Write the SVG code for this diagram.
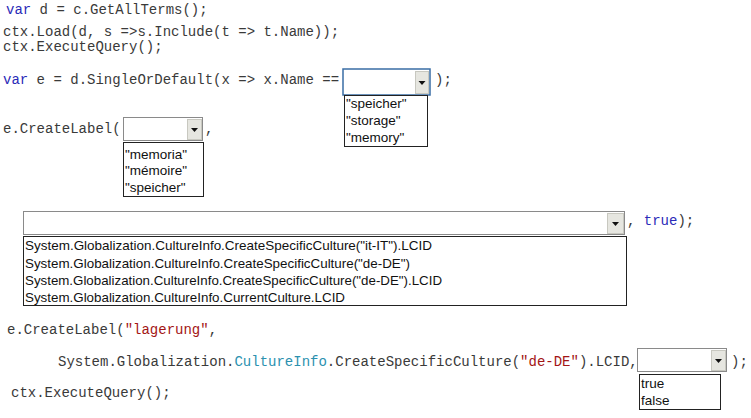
<svg xmlns="http://www.w3.org/2000/svg" width="751" height="418" viewBox="0 0 751 418">
<style>
.code{font-family:"Liberation Mono","Courier New",monospace;font-size:14px;fill:#3a3a3a}
.kw{fill:#2a2ab8}
.str{fill:#a31515}
.typ{fill:#2b91af}
.opt{font-family:"Liberation Sans",Arial,sans-serif;font-size:13.5px;fill:#111}
.box{fill:#fff;stroke:#8a8a8a;stroke-width:1}
.boxf{fill:#fff;stroke:#3a6ea5;stroke-width:1.5}
.btn{fill:#e6e6e0;stroke:#c8c8c0;stroke-width:1}
.list{fill:#fff;stroke:#222;stroke-width:1}
</style>
<defs>
<path id="tri" d="M-3.5,-2 L3.5,-2 L0,2 Z" fill="#111"/>
</defs>
<rect width="751" height="418" fill="#fff"/>

<g id="code">
<text class="code" x="6" y="14"><tspan class="kw">var</tspan> d = c.GetAllTerms();</text>
<text class="code" x="3" y="36">ctx.Load(d, s =&gt;s.Include(t =&gt; t.Name));</text>
<text class="code" x="3" y="51">ctx.ExecuteQuery();</text>
<text class="code" x="3" y="84"><tspan class="kw">var</tspan> e = d.SingleOrDefault(x =&gt; x.Name ==</text>
<text class="code" x="435" y="84">);</text>
<text class="code" x="3" y="133">e.CreateLabel(</text>
<text class="code" x="205" y="133">,</text>
<text class="code" x="627" y="225">, <tspan class="kw">true</tspan>);</text>
<text class="code" x="7" y="334">e.CreateLabel(<tspan class="str">"lagerung"</tspan>,</text>
<text class="code" x="58" y="366">System.Globalization.<tspan class="typ">CultureInfo</tspan>.CreateSpecificCulture(<tspan class="str">"de-DE"</tspan>).LCID,</text>
<text class="code" x="731" y="366">);</text>
<text class="code" x="11" y="397">ctx.ExecuteQuery();</text>
</g>

<g id="dropdown1">
<rect class="boxf" x="343" y="69" width="87" height="26"/>
<rect class="btn" x="415.5" y="71.5" width="13" height="22"/>
<use href="#tri" x="422" y="83"/>
<rect class="list" x="344.5" y="95.5" width="83" height="51"/>
<text class="opt" x="346" y="108">"speicher"</text>
<text class="opt" x="346" y="125">"storage"</text>
<text class="opt" x="346" y="142">"memory"</text>
</g>

<g id="dropdown2">
<rect class="box" x="123.5" y="117.5" width="79" height="23"/>
<rect class="btn" x="187.5" y="119.5" width="14" height="20"/>
<use href="#tri" x="194.5" y="130"/>
<rect class="list" x="123.5" y="142.5" width="80" height="54"/>
<text class="opt" x="125" y="159">"memoria"</text>
<text class="opt" x="125" y="175">"mémoire"</text>
<text class="opt" x="125" y="192">"speicher"</text>
</g>

<g id="dropdown3">
<rect class="box" x="23.5" y="211.5" width="601" height="23"/>
<rect class="btn" x="607.5" y="213.5" width="16" height="20"/>
<use href="#tri" x="615.5" y="224"/>
<rect class="list" x="23.5" y="236.5" width="603" height="69"/>
<text class="opt" x="25" y="250" textLength="407" lengthAdjust="spacingAndGlyphs">System.Globalization.CultureInfo.CreateSpecificCulture("it-IT").LCID</text>
<text class="opt" x="25" y="268" textLength="385" lengthAdjust="spacingAndGlyphs">System.Globalization.CultureInfo.CreateSpecificCulture("de-DE")</text>
<text class="opt" x="25" y="285" textLength="417" lengthAdjust="spacingAndGlyphs">System.Globalization.CultureInfo.CreateSpecificCulture("de-DE").LCID</text>
<text class="opt" x="25" y="302" textLength="320" lengthAdjust="spacingAndGlyphs">System.Globalization.CultureInfo.CurrentCulture.LCID</text>
</g>

<g id="dropdown4">
<rect class="box" x="637.5" y="348.5" width="89" height="23"/>
<rect class="btn" x="711.5" y="350.5" width="14" height="20"/>
<use href="#tri" x="718.5" y="361"/>
<rect class="list" x="639.5" y="374.5" width="81" height="35"/>
<text class="opt" x="641" y="388">true</text>
<text class="opt" x="641" y="405">false</text>
</g>

<g id="connectors"></g>
</svg>
